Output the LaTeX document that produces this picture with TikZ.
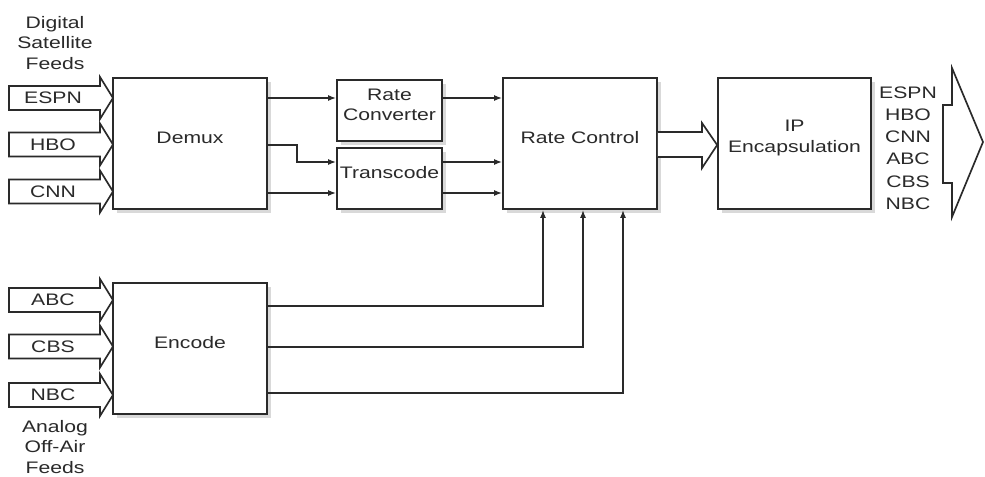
\documentclass[tikz,border=0pt]{standalone}
\usepackage{fontspec}
\setmainfont[FakeStretch=1.27]{Liberation Sans}
\usetikzlibrary{arrows.meta,fit,shadows}
\definecolor{ink}{HTML}{2A2A2A}
\tikzset{
  box/.style={draw=ink, line width=1.25pt, fill=white, inner sep=0pt, align=center, text=ink,
    drop shadow={shadow xshift=3pt, shadow yshift=-3pt, fill=black!15, opacity=1}},
  conn/.style={draw=ink, line width=1.2pt, -{Latex[length=6pt,width=4.5pt]}},
  fat/.style={draw=ink, line width=1.25pt, fill=white, line join=miter},
  lbl/.style={text=ink, align=center, inner sep=0pt}
}
\newcommand\feedarrow[3]{%
  \draw[fat] (9,#1-12) -- (100,#1-12) -- (100,#1-21) -- (113,#1) -- (100,#1+21) -- (100,#1+12) -- (9,#1+12) -- cycle;
  \node[lbl] (#2) at (53,#1) {#3};}
\begin{document}
\begin{tikzpicture}[x=0.75pt,y=-0.75pt,font=\fontsize{12.5}{15.5}\selectfont]
\useasboundingbox[fill=white] (0,0) rectangle (985,477);

% input feeds
\node[lbl] (sat) at (55,43) {Digital\\Satellite\\Feeds};
\feedarrow{98}{espn}{ESPN}
\feedarrow{144.5}{hbo}{HBO}
\feedarrow{191.5}{cnn}{CNN}
\feedarrow{300}{abc}{ABC}
\feedarrow{346.5}{cbs}{CBS}
\feedarrow{395}{nbc}{NBC}
\node[lbl] (ana) at (55,447) {Analog\\Off-Air\\Feeds};

% boxes
\node[box, fit={(113,78) (267,209)}] (demux) {Demux};
\node[box, fit={(113,283) (267,414)}] (encode) {Encode};
\node[box, fit={(337,80) (442,141)}] (rconv) {Rate\\Converter};
\node[box, fit={(337,148) (442,209)}] (trans) {Transcode};
\node[box, fit={(503,78) (657,209)}] (rctl) {Rate Control};
\node[box, fit={(718,78) (871,209)}] (ip) {IP\\Encapsulation};

% connectors
\draw[conn] (demux.east |- 0,98) -- (rconv.west |- 0,98);
\draw[conn] (demux.east |- 0,145) -- (297,145) -- (297,162) -- (trans.west |- 0,162);
\draw[conn] (demux.east |- 0,193) -- (trans.west |- 0,193);
\draw[conn] (rconv.east |- 0,98) -- (rctl.west |- 0,98);
\draw[conn] (trans.east |- 0,162) -- (rctl.west |- 0,162);
\draw[conn] (trans.east |- 0,193) -- (rctl.west |- 0,193);
\draw[conn] (encode.east |- 0,306) -| (rctl.south -| 543,0);
\draw[conn] (encode.east |- 0,347) -| (rctl.south -| 583,0);
\draw[conn] (encode.east |- 0,393) -| (rctl.south -| 623,0);

% wide arrow between rate control and IP encapsulation
\draw[fat] (rctl.east |- 0,132) -- (702,132) -- (702,123) -- (ip.west |- 0,145) -- (702,168) -- (702,157) -- (rctl.east |- 0,157);

% outputs
\node[lbl, font=\fontsize{12.5}{16.7}\selectfont] (outl) at (908,148) {ESPN\\HBO\\CNN\\ABC\\CBS\\NBC};
\draw[fat] (943,105) -- (952,105) -- (952,68) -- (983,142) -- (952,217) -- (952,183) -- (943,183) -- cycle;
\end{tikzpicture}
\end{document}
